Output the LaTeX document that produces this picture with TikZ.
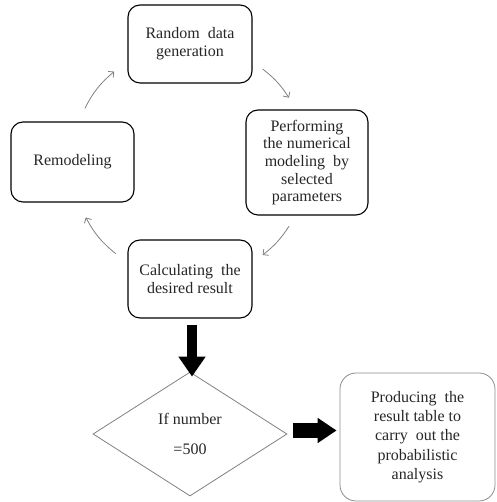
\documentclass[tikz,border=0pt]{standalone}
\usepackage{fontspec}
\setmainfont{Liberation Serif}
\usetikzlibrary{arrows.meta,shapes.geometric,calc}
\begin{document}
\begin{tikzpicture}[x=1pt,y=1pt,
  box/.style={draw=black,line width=1.1pt,rounded corners=12pt,minimum width=124pt,minimum height=78pt,inner sep=0pt,align=center,text=black!85,font=\fontsize{16}{18}\selectfont},
  cyc/.style={draw=black!50,line width=0.8pt,-{Straight Barb[length=4pt,width=8pt]}},
  fat/.style={draw=black,-{Triangle[length=20pt,width=26pt]}}]
\useasboundingbox (0,0) rectangle (496,502);
\node[box] (rand) at (190,458) {Random\enspace data\\generation};
\node[box,minimum width=122pt,minimum height=105pt,font=\fontsize{16}{17.6}\selectfont] (perf) at (307,339.5) {Performing\\the numerical\\modeling\enspace by\\selected\\parameters};
\node[box,minimum width=123pt,minimum height=80pt] (remod) at (72.5,340) {Remodeling};
\node[box] (calc) at (190,223) {Calculating\enspace the\\desired result};
\node[diamond,draw=black!50,line width=0.8pt,minimum width=194pt,minimum height=124pt,inner sep=0pt,align=center,text=black!85,font=\fontsize{16}{30}\selectfont] (dia) at (190,68) {If number\\=500};
\node[box,draw=black!45,line width=0.8pt,rounded corners=16pt,minimum width=155pt,minimum height=128pt,font=\fontsize{16}{19.2}\selectfont] (prod) at (417.5,65) {Producing\enspace the\\result table to\\carry\enspace out the\\probabilistic\\analysis};
\coordinate (ctr) at (190,340);
\coordinate (a1s) at ($(ctr)+(153:118)$);
\coordinate (a1e) at ($(ctr)+(130:118)$);
\coordinate (a2s) at ($(ctr)+(52:118)$);
\coordinate (a2e) at ($(ctr)+(33:118)$);
\coordinate (a3s) at ($(ctr)+(-33:118)$);
\coordinate (a3e) at ($(ctr)+(-52:118)$);
\coordinate (a4s) at ($(ctr)+(-129:118)$);
\coordinate (a4e) at ($(ctr)+(-152:118)$);
\draw[cyc] (a1s) to[bend left=11.5] (a1e);
\draw[cyc] (a2s) to[bend left=9.5] (a2e);
\draw[cyc] (a3s) to[bend left=9.5] (a3e);
\draw[cyc] (a4s) to[bend left=11.5] (a4e);
\draw[fat,line width=10pt] ($(calc.south)+(2,-6)$) -- ($(dia.north)+(2,-5)$);
\coordinate (r1) at ($(dia.east)+(6,3.5)$);
\coordinate (r2) at ($(r1 -| prod.west)+(-3,0)$);
\draw[fat,line width=15pt,-{Triangle[length=19pt,width=24pt]}] (r1) -- (r2);
\end{tikzpicture}
\end{document}
